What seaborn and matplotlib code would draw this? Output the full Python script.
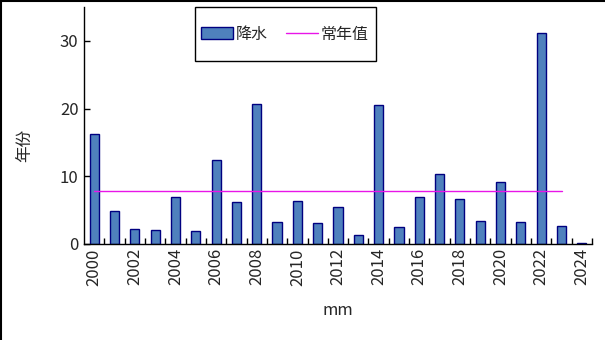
import matplotlib
matplotlib.use("Agg")
import matplotlib.pyplot as plt
import seaborn as sns
import pandas as pd
import numpy as np
from matplotlib.lines import Line2D
from matplotlib.patches import Rectangle
from matplotlib.ticker import FixedLocator

years = [str(y) for y in range(2000, 2025)]
precip = [16.3, 4.9, 2.2, 2.1, 7.0, 1.9, 12.4, 6.2, 20.7, 3.3, 6.4, 3.1, 5.5, 1.3,
          20.6, 2.5, 7.0, 10.4, 6.7, 3.4, 9.2, 3.3, 31.2, 2.7, 0.2]
normal_value = 7.8
normal_years = years[:-1]  # normal line spans 2000-2023
tick_labels = [y for y in years if int(y) % 2 == 0]

sns.set_theme(style="white")
plt.rcParams['font.family'] = ['Noto Sans CJK SC', 'DejaVu Sans']

fig = plt.figure(figsize=(6.05, 3.4), dpi=100)
ax = fig.add_axes([84/605, 1-244/340, (592-84)/605, (244-7)/340])

df = pd.DataFrame({"year": years, "precip": precip})
sns.barplot(data=df, x="year", y="precip", ax=ax, color="#4F81BD",
            edgecolor="#000080", linewidth=1.0, width=0.45, saturation=1,
            label="降水")

xi = [years.index(normal_years[0]), years.index(normal_years[-1])]
ax.plot(xi, [normal_value, normal_value], color="#E815E8", lw=1.0, label="常年值")

ax.set_xlim(-0.5, len(years) - 0.5)
ax.set_ylim(0, 35)
ax.set_yticks([0, 10, 20, 30])
ax.set_xticks([years.index(t) for t in tick_labels])
ax.set_xticklabels(tick_labels, rotation=90)
ax.xaxis.set_minor_locator(FixedLocator(np.arange(0.5, len(years), 1.0)))
ax.tick_params(axis="x", which="major", length=0, labelsize=12, pad=3)
ax.tick_params(axis="x", which="minor", direction="in", length=4.5, width=1, color="black", bottom=True)
ax.tick_params(axis="y", which="major", direction="in", length=4.5, width=1, color="black",
               left=True, labelsize=12, pad=4)
for s in ["top", "right"]:
    ax.spines[s].set_visible(False)
for s in ["left", "bottom"]:
    ax.spines[s].set_color("black")
    ax.spines[s].set_linewidth(1.0)

ax.set_xlabel("mm", fontsize=12, labelpad=12)
ax.set_ylabel("年份", fontsize=12)
ax.yaxis.set_label_coords((33-84)/508, (244-145)/237)

handles, labels = ax.get_legend_handles_labels()
order = [labels.index("降水"), labels.index("常年值")]
leg = ax.legend([handles[i] for i in order], [labels[i] for i in order],
                loc="center", bbox_to_anchor=(285/605, 1-34/340),
                bbox_transform=fig.transFigure, ncol=2, fontsize=11.5,
                frameon=False, borderpad=0.0, handlelength=2.0,
                handletextpad=0.2, columnspacing=1.1, borderaxespad=0)
fig.add_artist(Rectangle((195/605, 1-61/340), 181/605, 54/340, transform=fig.transFigure,
                         fill=False, edgecolor="black", lw=1.0))

fig.add_artist(Line2D([0.002, 0.002], [0, 1], transform=fig.transFigure, color="black", lw=1.5))
fig.add_artist(Line2D([0, 1], [0.997, 0.997], transform=fig.transFigure, color="black", lw=1.5))

fig.savefig("out.png", dpi=100, facecolor="white")
